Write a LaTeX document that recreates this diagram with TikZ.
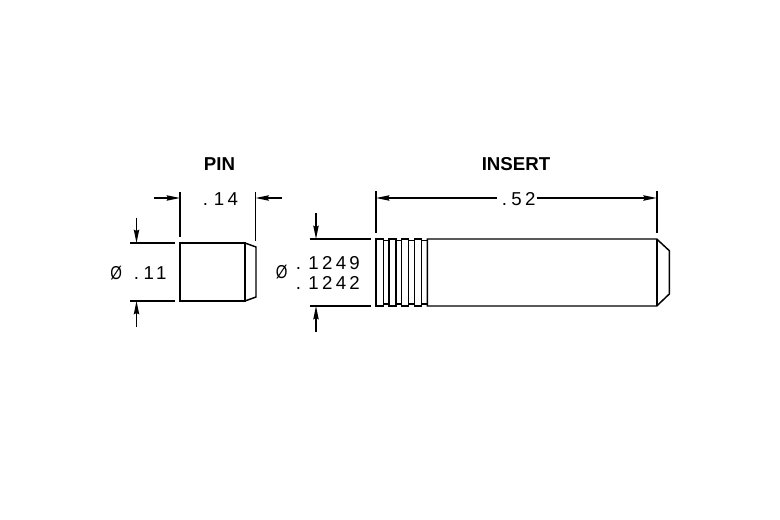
\documentclass[tikz,border=0pt]{standalone}
\usepackage{fontspec}
\setmainfont{Liberation Sans}
\newfontfamily\cadfont[LetterSpace=18]{Liberation Sans}
\usetikzlibrary{arrows.meta}
\newcommand{\diasign}{\scalebox{0.8}[1]{Ø}}
\tikzset{
  part/.style={line width=1.1pt, black},
  heavypart/.style={line width=1.5pt, black},
  thinpart/.style={line width=0.95pt, black},
  extline/.style={line width=1pt, black},
  dimline/.style={line width=1pt, black, -{Stealth[length=10pt, width=4pt, inset=1pt]}},
  dimtext/.style={inner sep=0pt, anchor=west, font=\cadfont\fontsize{14}{16}\selectfont},
  title/.style={inner sep=0pt, font=\bfseries\fontsize{14}{16}\selectfont}
}
\begin{document}
\begin{tikzpicture}[x=0.75pt, y=-0.75pt]
    \useasboundingbox (0,0) rectangle (780,520);
    % Titles
    \node (pintitle) at (219.5,164) [title] {PIN};
    \node (inserttitle) at (516,164) [title] {INSERT};

    % Pin outline
    \draw [part] (180,243) rectangle (245,301);
    \draw [part] (245,243) -- (256,247) -- (256,297) -- (245,301);
    \draw [heavypart] (245,243) -- (245,301);

    % Pin length
    \coordinate (pinL) at (180,198);
    \coordinate (pinR) at (255.5,198);
    \node (pinlen) at (202.5,199) [dimtext] {.\hspace{4.5pt}14};
    \draw [extline] (180,192) -- (180,237);
    \draw [extline] (255.5,192) -- (255.5,241);
    \coordinate (pinLs) at (154,198);
    \coordinate (pinRs) at (282,198);
    \draw [dimline] (pinLs) -- (pinL);
    \draw [dimline] (pinRs) -- (pinR);

    % Pin diameter
    \draw [extline] (130,243) -- (174.5,243);
    \draw [extline] (130,301) -- (174.5,301);
    \coordinate (pinT) at (136.5,243);
    \coordinate (pinB) at (136.5,301);
    \coordinate (pinTs) at (136.5,217.5);
    \coordinate (pinBs) at (136.5,327);
    \draw [dimline] (pinTs) -- (pinT);
    \draw [dimline] (pinBs) -- (pinB);
    \node (pindia) at (110,273) [dimtext] {\diasign\hspace{9pt}.\hspace{3.5pt}11};

    % Insert outline
    \draw [part] (427.3,239) -- (656.7,239) -- (669.3,250.7) -- (669.3,294) -- (656.7,306) -- (427.3,306) -- cycle;
    \draw [heavypart] (656.7,239) -- (656.7,306);
    \foreach \xa/\xb in {376/383.3, 389/396, 401.7/408.7, 414.3/421.7} {
        \draw [part] (\xa,239) rectangle (\xb,306);
    }
    \foreach \xa/\xb in {383.3/389, 396/401.7, 408.7/414.3, 421.7/427.3} {
        \draw [thinpart] (\xa,240.7) -- (\xb,240.7);
        \draw [thinpart] (\xa,304) -- (\xb,304);
    }

    % Insert length
    \draw [extline] (376,191.5) -- (376,232.7);
    \draw [heavypart] (656.7,191.5) -- (656.7,232.7);
    \coordinate (insL) at (376,198);
    \coordinate (insR) at (656.7,198);
    \node (inslen) at (501.5,199) [dimtext] {.\hspace{3.4pt}52};
    \coordinate (insLs) at ([xshift=-3.4pt]inslen.west |- insL);
    \coordinate (insRs) at ([xshift=0.5pt]inslen.east |- insL);
    \draw [dimline] (insLs) -- (insL);
    \draw [dimline] (insRs) -- (insR);

    % Insert diameter
    \draw [extline] (309.5,239) -- (370.5,239);
    \draw [extline] (309.5,306) -- (370.5,306);
    \coordinate (insT) at (316,239);
    \coordinate (insB) at (316,306);
    \coordinate (insTs) at (316,213);
    \coordinate (insBs) at (316,332);
    \draw [dimline] (insTs) -- (insT);
    \draw [dimline] (insBs) -- (insB);
    \node (insdia) at (275.5,272) [dimtext] {\diasign};
    \node (insmax) at (295.5,263) [dimtext] {.\hspace{5.5pt}1249};
    \node (insmin) at (295.5,283) [dimtext] {.\hspace{5.5pt}1242};
\end{tikzpicture}
\end{document}
